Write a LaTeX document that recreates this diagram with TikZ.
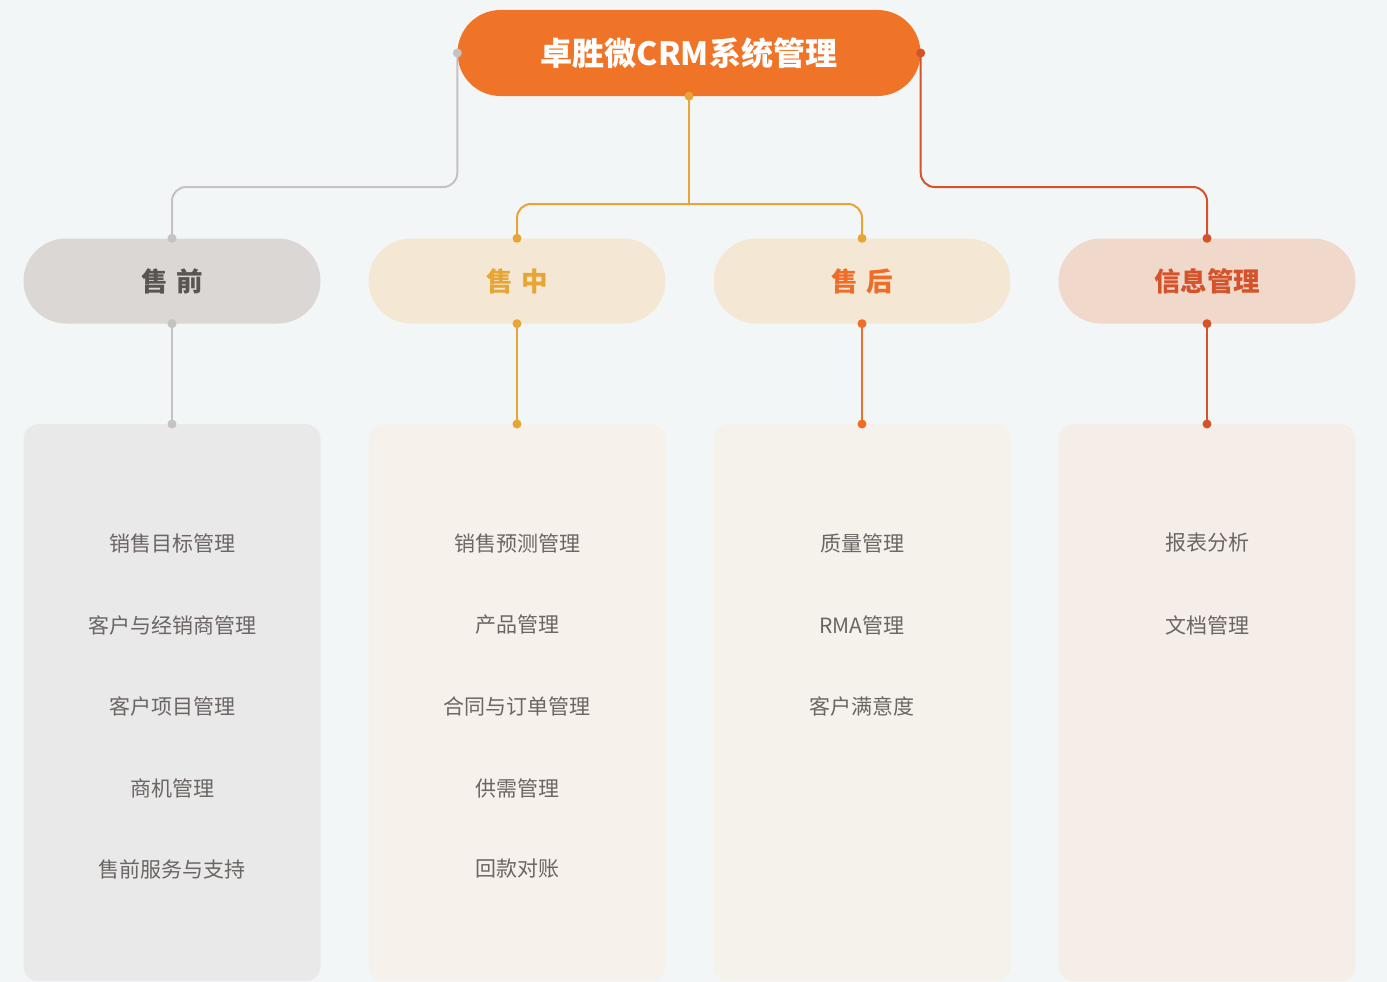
\documentclass[tikz,border=0pt]{standalone}
\usepackage{fontspec}
\setmainfont{Noto Sans CJK SC}
\usetikzlibrary{calc}
\definecolor{bg}{HTML}{F3F6F7}
\definecolor{topfill}{HTML}{F07427}
\definecolor{grayfill}{HTML}{DAD7D5}
\definecolor{grayline}{HTML}{C4C2C2}
\definecolor{graytext}{HTML}{5A5452}
\definecolor{creamfill}{HTML}{F4E8D4}
\definecolor{yellowline}{HTML}{E6A535}
\definecolor{orangeline}{HTML}{EE6D28}
\definecolor{redline}{HTML}{D5532A}
\definecolor{redfill}{HTML}{F0D8CA}
\definecolor{boxgray}{HTML}{E9E9E9}
\definecolor{boxcream}{HTML}{F6F2EB}
\definecolor{boxcream2}{HTML}{F5F1EB}
\definecolor{boxred}{HTML}{F5EDE8}
\definecolor{itemtext}{HTML}{6B6563}
\tikzset{
  topnode/.style={fill=topfill, rounded corners=43pt, minimum width=463pt, minimum height=86pt, inner sep=0pt, text=white, font=\fontsize{32}{32}\selectfont\bfseries},
  midnode/.style={rounded corners=42.5pt, minimum width=297pt, minimum height=85pt, inner sep=0pt, font=\fontsize{26.5}{26.5}\selectfont\bfseries},
  listbox/.style={rounded corners=15pt, minimum width=297pt, minimum height=557pt, inner sep=0pt, anchor=north},
  item/.style={text=itemtext, font=\fontsize{21}{21}\selectfont, inner sep=0pt},
  conn/.style={line width=2pt, rounded corners=14pt},
  dot/.style={circle, inner sep=0pt, minimum size=9pt},
}
\begin{document}
\begin{tikzpicture}[x=1pt, y=-1pt]
\fill[bg] (0,0) rectangle (1387,982);
\useasboundingbox (0,0) rectangle (1387,982);

% list boxes
\node[listbox, fill=boxgray] (b1) at (172,424) {};
\node[listbox, fill=boxcream] (b2) at (517,424) {};
\node[listbox, fill=boxcream2] (b3) at (862,424) {};
\node[listbox, fill=boxred] (b4) at (1207,424) {};

% main node
\node[topnode] (top) at (689,53) {卓胜微CRM系统管理};

% category nodes
\node[midnode, fill=grayfill, text=graytext] (m1) at (172,281) {售\,\,前};
\node[midnode, fill=creamfill, text=yellowline] (m2) at (517,281) {售\,\,中};
\node[midnode, fill=creamfill, text=orangeline] (m3) at (862,281) {售\,\,后};
\node[midnode, fill=redfill, text=redline] (m4) at (1207,281) {信息管理};

\coordinate (j1) at (0,187);
\coordinate (j2) at (0,204);

% top connectors
\draw[conn, grayline] (top.west) -- (top.west |- j1) -- (m1.north |- j1) -- (m1.north);
\draw[conn, yellowline] (top.south) -- (top.south |- j2);
\draw[conn, yellowline] (m2.north) -- (m2.north |- j2) -- (m3.north |- j2) -- (m3.north);
\draw[conn, redline] (top.east) -- (top.east |- j1) -- (m4.north |- j1) -- (m4.north);

% vertical connectors
\draw[line width=2pt, grayline] (m1.south) -- (b1.north);
\draw[line width=2pt, yellowline] (m2.south) -- (b2.north);
\draw[line width=2pt, orangeline] (m3.south) -- (b3.north);
\draw[line width=2pt, redline] (m4.south) -- (b4.north);

% dots
\node[dot, fill=grayline] at (top.west) {};
\node[dot, fill=yellowline] at (top.south) {};
\node[dot, fill=redline] at (top.east) {};
\node[dot, fill=grayline] at (m1.north) {};
\node[dot, fill=grayline] at (m1.south) {};
\node[dot, fill=grayline] at (b1.north) {};
\node[dot, fill=yellowline] at (m2.north) {};
\node[dot, fill=yellowline] at (m2.south) {};
\node[dot, fill=yellowline] at (b2.north) {};
\node[dot, fill=yellowline] at (m3.north) {};
\node[dot, fill=orangeline] at (m3.south) {};
\node[dot, fill=orangeline] at (b3.north) {};
\node[dot, fill=redline] at (m4.north) {};
\node[dot, fill=redline] at (m4.south) {};
\node[dot, fill=redline] at (b4.north) {};

% items
\node[item] (a1) at (172,543) {销售目标管理};
\node[item] (a2) at (172,625) {客户与经销商管理};
\node[item] (a3) at (172,706) {客户项目管理};
\node[item] (a4) at (172,788) {商机管理};
\node[item] (a5) at (172,869) {售前服务与支持};

\node[item] (c1) at (517,543) {销售预测管理};
\node[item] (c2) at (517,625) {产品管理};
\node[item] (c3) at (517,706) {合同与订单管理};
\node[item] (c4) at (517,788) {供需管理};
\node[item] (c5) at (517,869) {回款对账};

\node[item] (d1) at (862,543) {质量管理};
\node[item] (d2) at (862,625) {RMA管理};
\node[item] (d3) at (862,706) {客户满意度};

\node[item] (e1) at (1207,543) {报表分析};
\node[item] (e2) at (1207,625) {文档管理};
\end{tikzpicture}
\end{document}
